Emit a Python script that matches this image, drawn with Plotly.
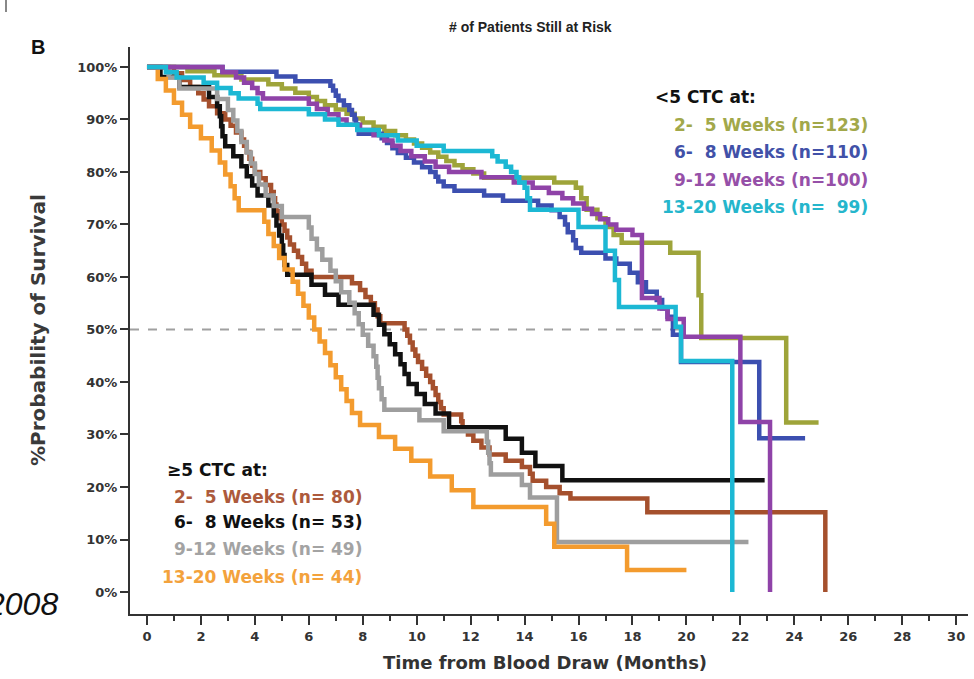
import plotly.graph_objects as go

# ---------------- data ----------------
# >=5 CTC groups
brown_t = [0, 1.0, 1.3, 1.6, 1.9, 2.1, 2.3, 2.6, 2.9, 3.1, 3.3, 3.5, 3.6, 3.7, 3.8, 3.9, 4.0, 4.2, 4.4, 4.6,
           4.7, 4.75, 4.8, 4.9, 5.0, 5.1, 5.2, 5.3, 5.45, 5.6, 5.75, 5.9, 6.1, 7.6, 7.9, 8.1, 8.3, 8.45, 8.55,
           8.65, 9.55, 9.65, 9.75, 9.85, 9.95, 10.05, 10.2, 10.35, 10.5, 10.6, 10.7, 10.8, 10.9, 11.0, 11.65,
           11.7, 11.9, 12.1, 12.4, 12.7, 13.3, 13.9, 14.2, 14.3, 14.8, 15.3, 15.7, 18.55, 25.15]
brown_s = [100, 98.8, 97.5, 96.2, 95.0, 93.8, 92.5, 91.2, 90.0, 88.8, 87.5, 86.2, 85.0, 83.8, 82.5, 81.2, 80.0,
           78.8, 77.5, 76.2, 75.0, 73.8, 72.5, 71.2, 70.0, 68.8, 67.5, 66.2, 65.0, 63.8, 62.5, 61.2, 60.0, 58.8,
           57.5, 56.2, 55.0, 53.8, 52.5, 51.2, 50.0, 48.8, 47.5, 46.2, 45.0, 43.8, 42.5, 41.2, 40.0, 38.8, 37.5,
           36.2, 35.0, 33.8, 32.5, 31.2, 30.0, 28.8, 27.5, 26.2, 25.0, 23.8, 22.5, 21.2, 20.0, 18.8, 17.8, 15.2, 0]

black_t = [0, 0.5, 1.2, 2.3, 2.6, 2.7, 2.75, 2.8, 2.9, 3.2, 3.5, 3.7, 3.9, 4.1, 4.5, 4.7, 4.8, 4.9, 5.0, 5.05,
           5.1, 5.2, 6.1, 6.6, 7.1, 8.4, 8.6, 8.8, 9.0, 9.2, 9.4, 9.55, 9.7, 10.0, 10.3, 10.7, 11.2, 13.3, 13.9,
           14.4, 15.4, 22.9]
black_s = [100, 98.1, 96.2, 94.3, 92.5, 90.6, 88.7, 86.8, 84.9, 83.0, 81.1, 79.2, 77.4, 75.5, 73.6, 71.7, 69.8,
           67.9, 66.0, 64.2, 62.3, 60.4, 58.5, 56.6, 54.7, 52.8, 50.9, 49.1, 47.2, 45.3, 43.4, 41.5, 39.6, 37.7,
           35.8, 34.0, 31.4, 29.2, 26.5, 24.0, 21.3, 21.3]

gray_t = [0, 0.8, 1.2, 2.6, 3.0, 3.2, 3.35, 3.5, 3.7, 3.85, 4.0, 4.15, 4.4, 4.7, 5.0, 6.0, 6.1, 6.3, 6.5, 6.8,
          7.0, 7.2, 7.5, 7.7, 7.85, 8.0, 8.2, 8.4, 8.5, 8.55, 8.6, 8.7, 8.8, 10.1, 11.0, 12.6, 12.65, 12.7,
          12.75, 13.9, 14.2, 15.2, 22.3]
gray_s = [100, 98.0, 95.9, 93.9, 91.8, 89.8, 87.8, 85.7, 83.7, 81.6, 79.6, 77.6, 75.5, 73.5, 71.4, 69.4, 67.3,
          65.3, 63.3, 61.2, 59.2, 57.1, 55.1, 53.1, 51.0, 49.0, 46.9, 44.9, 42.9, 40.8, 38.8, 36.7, 34.7, 32.7,
          30.6, 28.6, 26.5, 24.5, 22.4, 20.4, 18.0, 9.5, 9.5]

orange_t = [0, 0.4, 0.7, 1.0, 1.3, 1.6, 2.0, 2.4, 2.7, 2.9, 3.1, 3.25, 3.4, 4.35, 4.5, 4.7, 4.9, 5.1, 5.4, 5.6,
            5.8, 6.0, 6.2, 6.4, 6.6, 6.8, 7.0, 7.2, 7.4, 7.6, 7.9, 8.6, 9.2, 9.8, 10.5, 11.3, 12.1, 14.8, 15.1,
            17.8, 20.0]
orange_s = [100, 97.7, 95.5, 93.2, 90.9, 88.6, 86.4, 84.1, 81.8, 79.5, 77.3, 75.0, 72.7, 70.5, 68.2, 65.9, 63.6,
            61.4, 59.1, 56.8, 54.5, 52.3, 50.0, 47.7, 45.5, 43.2, 40.9, 38.6, 36.4, 34.1, 31.8, 29.5, 27.3, 25.0,
            22.0, 19.4, 16.2, 13.0, 8.6, 4.2, 4.2]

# <5 CTC groups
olive_t = [0, 1.5, 2.5, 3.5, 4.5, 5.0, 5.5, 6.0, 6.3, 6.6, 7.0, 7.4, 7.7, 8.0, 8.4, 8.8, 9.2, 9.6, 9.9, 10.2,
           10.5, 10.8, 11.1, 11.4, 11.7, 12.1, 12.5, 15.1, 15.9, 16.1, 16.3, 16.7, 17.0, 17.3, 17.6, 19.4,
           20.45, 20.55, 23.7, 24.9]
olive_s = [100, 99.2, 98.4, 97.6, 96.7, 95.9, 95.1, 94.3, 93.5, 92.7, 91.9, 91.1, 90.2, 89.4, 88.6, 87.8, 87.0,
           86.2, 85.4, 84.6, 83.7, 82.9, 82.1, 81.3, 80.5, 79.7, 78.9, 78.0, 77.0, 75.0, 72.8, 71.2, 69.5, 68.0,
           66.5, 64.6, 56.5, 48.4, 32.3, 32.3]

blue_t = [0, 2.8, 4.8, 5.5, 6.8, 6.9, 7.0, 7.1, 7.3, 7.5, 7.6, 7.7, 7.75, 7.8, 7.85, 8.7, 8.9, 9.1, 9.3, 9.6,
          9.9, 10.2, 10.5, 10.7, 10.8, 11.0, 11.4, 12.5, 13.2, 14.5, 15.0, 15.3, 15.5, 15.6, 15.8, 15.9, 16.1,
          17.0, 17.4, 17.9, 18.2, 18.5, 18.9, 19.1, 19.3, 19.5, 19.8, 22.7, 24.4]
blue_s = [100, 99.1, 98.2, 97.3, 96.4, 95.5, 94.5, 93.6, 92.7, 91.8, 90.9, 90.0, 89.1, 88.2, 87.3, 86.4, 85.5,
          84.5, 83.6, 82.7, 81.8, 80.9, 80.0, 79.1, 78.2, 77.3, 76.4, 75.5, 74.5, 73.6, 72.7, 71.4, 70.0, 68.5,
          67.0, 65.5, 64.6, 63.5, 62.5, 60.8, 59.0, 57.2, 55.6, 54.0, 52.4, 49.0, 43.8, 29.3, 29.3]

purple_t = [0, 2.8, 3.3, 3.6, 3.9, 4.1, 4.3, 6.0, 6.3, 6.7, 7.1, 7.4, 7.9, 8.4, 8.8, 9.1, 9.4, 9.8, 10.3, 10.7,
            11.2, 12.4, 13.6, 14.3, 14.9, 15.4, 15.8, 16.2, 16.5, 16.8, 17.1, 17.4, 18.0, 18.35, 19.0, 19.3,
            19.9, 22.0, 23.1]
purple_s = [100, 99, 98, 97, 96, 95, 94, 93, 92, 91, 90, 89, 88, 87, 86, 85, 84, 83, 82, 81, 80, 79, 78, 77,
            76, 75, 74, 73, 72, 71, 70, 69, 68, 56.0, 54.0, 52.0, 48.6, 32.4, 0]

cyan_t = [0, 0.7, 1.1, 2.1, 2.6, 3.1, 3.4, 4.1, 4.2, 6.0, 6.6, 7.1, 7.8, 8.6, 9.3, 10.0, 11.0, 12.8, 13.0,
          13.3, 13.5, 13.7, 13.8, 14.0, 14.1, 14.2, 16.0, 17.0, 17.35, 17.5, 19.6, 19.8, 21.7]
cyan_s = [100, 99, 98, 97, 96, 95, 94, 93, 92, 91, 90, 89, 88, 87, 86, 85, 84, 83, 82, 81, 80, 79, 78, 77, 75,
          72.8, 69.5, 65.0, 59.4, 54.3, 50.5, 44.0, 0]

x_ticks = list(range(0, 31, 2))
y_ticks = list(range(0, 101, 10))
y_ticktext = [f"{v}%" for v in y_ticks]

# ---------------- figure ----------------
W, H = 974, 679
L, R, T, B = 130, 6, 47, 65
PW, PH = W - L - R, H - T - B


def px(x):
    return (x - L) / PW


def py(y):
    return (H - B - y) / PH


FONT = "DejaVu Sans"

series = [
    (brown_t, brown_s, "#a5502d"),
    (black_t, black_s, "#111111"),
    (gray_t, gray_s, "#9e9e9e"),
    (orange_t, orange_s, "#f39b2e"),
    (olive_t, olive_s, "#9ea43a"),
    (blue_t, blue_s, "#3c4fb0"),
    (purple_t, purple_s, "#8f43a8"),
    (cyan_t, cyan_s, "#1cb8d4"),
]

fig = go.Figure()
for t, s, c in series:
    fig.add_trace(go.Scatter(x=t, y=s, mode="lines", line=dict(color=c, width=4.5, shape="hv"),
                             showlegend=False, hoverinfo="skip"))

# 50% reference line
fig.add_shape(type="line", xref="x", yref="y", x0=-0.63, x1=19.8, y0=50, y1=50,
              line=dict(color="#a0a0a0", width=2, dash="dash"), layer="below")

# small mark top-left
fig.add_shape(type="line", xref="paper", yref="paper", x0=px(6), x1=px(6), y0=py(0), y1=py(12),
              line=dict(color="#888888", width=2))

ann = []


def add_text(text, x, y, size, color="#111111", xanchor="left", bold=True, family=FONT, italic=False,
             angle=0):
    ann.append(dict(text=text, x=px(x), y=py(y), xref="paper", yref="paper", xanchor=xanchor,
                    yanchor="middle", showarrow=False, textangle=angle,
                    font=dict(family=family, size=size, color=color,
                              weight="bold" if bold else "normal",
                              style="italic" if italic else "normal")))


add_text("# of Patients Still at Risk", 530, 27, 14, "#222222", "center", family="Liberation Sans")
add_text("B", 38, 47, 20, "#111111", "center", family="Liberation Sans")
add_text("2008", 60, 604, 32, "#111111", "right", bold=False, family="Liberation Sans", italic=True)

add_text("%Probability of Survival", 38, 330, 20, "#3a3a3a", "center", angle=-90)
add_text("Time from Blood Draw (Months)", 545, 662, 18, "#333333", "center")

# <5 CTC legend
add_text("&lt;5 CTC at:", 653, 97, 17, "#111111", "left")
top_lbl = ["2-\u00a0 5 Weeks (n=123)", "6-\u00a0 8 Weeks (n=110)", "9-12 Weeks (n=100)",
           "13-20 Weeks (n=\u00a0 99)"]
top_col = ["#a2a84a", "#4151a8", "#9650a8", "#25b6cc"]
for lbl, col, yy in zip(top_lbl, top_col, [125, 152, 180, 207]):
    add_text(lbl, 870, yy, 17, col, "right")

# >=5 CTC legend
add_text("\u22655 CTC at:", 165, 470, 17, "#111111", "left")
bot_lbl = ["2-\u00a0 5 Weeks (n= 80)", "6-\u00a0 8 Weeks (n= 53)", "9-12 Weeks (n= 49)",
           "13-20 Weeks (n= 44)"]
bot_col = ["#ad5a3c", "#111111", "#a3a3a3", "#f3a23c"]
for lbl, col, yy in zip(bot_lbl, bot_col, [497, 522, 549, 577]):
    add_text(lbl, 364, yy, 17, col, "right")

fig.update_layout(
    width=W, height=H,
    margin=dict(l=L, r=R, t=T, b=B, pad=0),
    paper_bgcolor="white", plot_bgcolor="white",
    annotations=ann,
    xaxis=dict(range=[-0.63, 30.44], tickvals=x_ticks, ticktext=[str(v) for v in x_ticks],
               showgrid=False, zeroline=False, showline=True, linecolor="#333333", linewidth=2,
               ticks="outside", ticklen=9, tickwidth=2, tickcolor="#333333", automargin=False,
               tickfont=dict(family=FONT, size=13, color="#333333", weight="bold"),
               minor=dict(dtick=1, tick0=0, ticks="outside", ticklen=5, tickwidth=1.5, tickcolor="#333333")),
    yaxis=dict(range=[-4.19, 103.8], tickvals=y_ticks, ticktext=y_ticktext, automargin=False,
               showgrid=False, zeroline=False, showline=True, linecolor="#333333", linewidth=2,
               ticks="outside", ticklen=8, tickwidth=2, tickcolor="#333333",
               tickfont=dict(family=FONT, size=13, color="#333333", weight="bold")),
)

fig.write_html("out.html", config={"displayModeBar": False},
               post_script="document.body.style.margin='0px';document.body.style.padding='0px';")
